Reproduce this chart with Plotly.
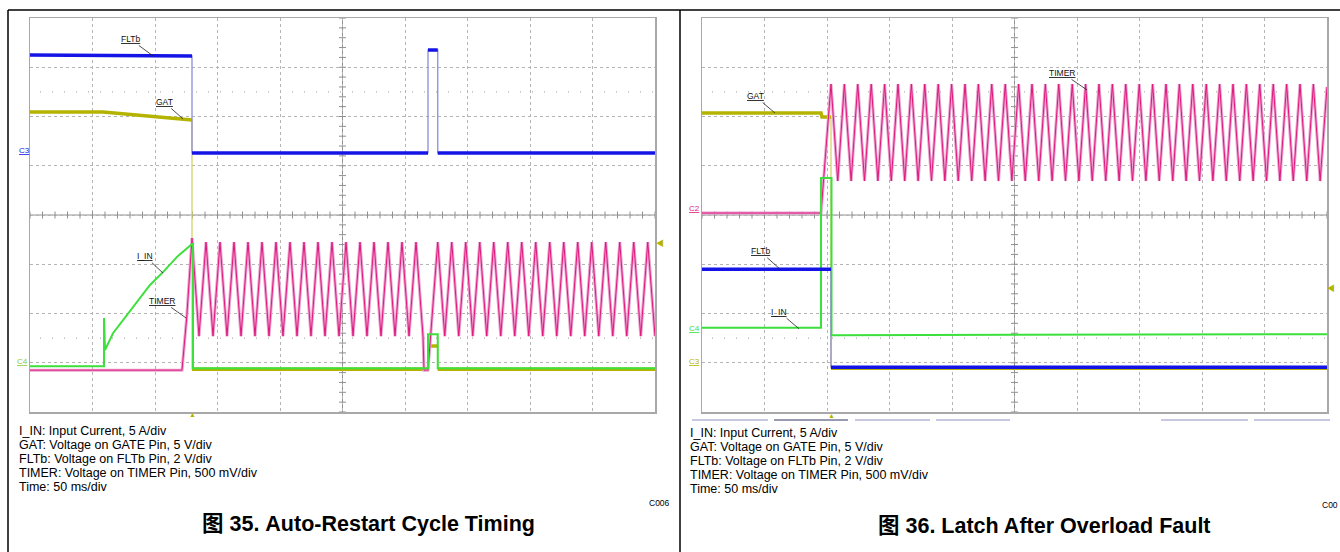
import plotly.graph_objects as go

W, H = 1340, 552

# ---------------- Figure 35 (left) : time in ms (50 ms/div), level in screen divisions
L_FLTB_T = [0, 129.6, 129.6, 318.4, 318.4, 326.2, 326.2, 500]
L_FLTB_V = [3.25, 3.23, 1.26, 1.26, 3.35, 3.35, 1.26, 1.26]

L_GAT_T = [0, 58.4, 129.6, 129.6, 319.2, 319.2, 326.2, 326.2, 500]
L_GAT_V = [2.09, 2.09, 1.93, -3.13, -3.13, -2.66, -2.66, -3.13, -3.13]

L_IIN_T = [0, 59.2, 59.2, 60.0, 66.4, 82.4, 96.0, 106.4, 117.6, 129.6, 130.4, 130.4,
           318.4, 318.4, 326.2, 326.2, 500]
L_IIN_V = [-3.07, -3.07, -2.09, -2.74, -2.40, -1.87, -1.42, -1.16, -0.85, -0.59, -0.59, -3.11,
           -3.11, -2.42, -2.42, -3.11, -3.11]

L_TIMER_T = [0, 121.6, 125.4, 129.6,
             135.2, 140.8, 146.4, 152.0, 157.6, 163.2, 168.8, 174.4, 180.0, 185.6, 191.2, 196.8,
             202.4, 208.0, 213.6, 219.2, 224.8, 230.4, 236.0, 241.6, 247.2, 252.8, 258.4, 264.0,
             269.6, 275.2, 280.8, 286.4, 292.0, 297.6, 303.2, 308.8,
             314.4, 315.2, 318.4, 326.2,
             331.8, 337.4, 343.0, 348.6, 354.2, 359.8, 365.4, 371.0, 376.6, 382.2, 387.8, 393.4,
             399.0, 404.6, 410.2, 415.8, 421.4, 427.0, 432.6, 438.2, 443.8, 449.4, 455.0, 460.6,
             466.2, 471.8, 477.4, 483.0, 488.6, 494.2, 500.0]
L_TIMER_V = [-3.15, -3.15, -2.07, -0.47,
             -2.46, -0.55, -2.46, -0.55, -2.46, -0.55, -2.46, -0.55, -2.46, -0.55, -2.46, -0.55,
             -2.46, -0.55, -2.46, -0.55, -2.46, -0.55, -2.46, -0.55, -2.46, -0.55, -2.46, -0.55,
             -2.46, -0.55, -2.46, -0.55, -2.46, -0.55, -2.46, -0.55,
             -2.46, -3.15, -3.15, -0.55,
             -2.46, -0.55, -2.46, -0.55, -2.46, -0.55, -2.46, -0.55, -2.46, -0.55, -2.46, -0.55,
             -2.46, -0.55, -2.46, -0.55, -2.46, -0.55, -2.46, -0.55, -2.46, -0.55, -2.46, -0.55,
             -2.46, -0.55, -2.46, -0.55, -2.46, -0.55, -2.46]

# ---------------- Figure 36 (right)
R_GAT_T = [0, 95.2, 96.0, 103.2, 103.2, 500]
R_GAT_V = [2.07, 2.07, 1.99, 1.99, -3.11, -3.11]

R_FLTB_T = [0, 103.2, 103.2, 500]
R_FLTB_V = [-1.10, -1.10, -3.09, -3.09]

R_IIN_T = [0, 95.2, 95.2, 103.6, 103.6, 500]
R_IIN_V = [-2.29, -2.29, 0.75, 0.75, -2.44, -2.42]

R_TIMER_T = [0, 95.2, 103.2,
             108.6, 113.9, 119.3, 124.6, 130.0, 135.4, 140.7, 146.1, 151.4, 156.8, 162.2, 167.5,
             172.9, 178.2, 183.6, 189.0, 194.3, 199.7, 205.0, 210.4, 215.8, 221.1, 226.5, 231.8,
             237.2, 242.6, 247.9, 253.3, 258.6, 264.0, 269.4, 274.7, 280.1, 285.4, 290.8, 296.2,
             301.5, 306.9, 312.2, 317.6, 323.0, 328.3, 333.7, 339.0, 344.4, 349.8, 355.1, 360.5,
             365.8, 371.2, 376.6, 381.9, 387.3, 392.6, 398.0, 403.4, 408.7, 414.1, 419.4, 424.8,
             430.2, 435.5, 440.9, 446.2, 451.6, 457.0, 462.3, 467.7, 473.0, 478.4, 483.8, 489.1,
             494.5, 500.0]
R_TIMER_V = [0.04, 0.04, 2.66,
             0.69, 2.66, 0.69, 2.66, 0.69, 2.66, 0.69, 2.66, 0.69, 2.66, 0.69, 2.66,
             0.69, 2.66, 0.69, 2.66, 0.69, 2.66, 0.69, 2.66, 0.69, 2.66, 0.69, 2.66,
             0.69, 2.66, 0.69, 2.66, 0.69, 2.66, 0.69, 2.66, 0.69, 2.66, 0.69, 2.66,
             0.69, 2.66, 0.69, 2.66, 0.69, 2.66, 0.69, 2.66, 0.69, 2.66, 0.69, 2.66,
             0.69, 2.66, 0.69, 2.66, 0.69, 2.66, 0.69, 2.66, 0.69, 2.66, 0.69, 2.66,
             0.69, 2.66, 0.69, 2.66, 0.69, 2.66, 0.69, 2.66, 0.69, 2.66, 0.69, 2.66,
             0.69, 2.60]

# ---------------- texts
NOTES = ["I_IN: Input Current, 5 A/div",
         "GAT: Voltage on GATE Pin, 5 V/div",
         "FLTb: Voltage on FLTb Pin, 2 V/div",
         "TIMER: Voltage on TIMER Pin, 500 mV/div",
         "Time: 50 ms/div"]
TITLE_L = "图 35. Auto-Restart Cycle Timing"
TITLE_R = "图 36. Latch After Overload Fault"
CODE_L = "C006"
CODE_R = "C00"

FONT = "Liberation Sans, Arial, Noto Sans CJK SC, sans-serif"
BLUE, BLUE_T = "#1414e6", "#8c8cdc"
OLIVE, OLIVE_T = "#b4b400", "#d4d46a"
GREEN = "#3ce03c"
MAG, MAG_T = "#e0187c", "#eaa2d0"
GRID = "#b4b4b4"


def px(x):
    return x / W


def py(y):
    return 1 - y / H


def thick(t, v):
    xs, ys = [], []
    for i in range(len(t)):
        if i > 0 and t[i] == t[i - 1]:
            xs.append(None)
            ys.append(None)
        xs.append(t[i])
        ys.append(v[i])
    return xs, ys


fig = go.Figure()


def add_panel(xa, ya, gat, timer, iin, fltb):
    kw = dict(xaxis=xa, yaxis=ya, mode="lines", hoverinfo="skip", showlegend=False)
    # decorations: centre-line minor ticks
    tt = [i * 10 for i in range(51)]
    fig.add_trace(go.Scatter(x=tt, y=[0] * len(tt), mode="markers", xaxis=xa, yaxis=ya,
                             marker=dict(symbol="line-ns", size=5, line=dict(width=1, color="#909090")),
                             hoverinfo="skip", showlegend=False))
    vv = [-4 + i * 0.2 for i in range(41)]
    fig.add_trace(go.Scatter(x=[250] * len(vv), y=vv, mode="markers", xaxis=xa, yaxis=ya,
                             marker=dict(symbol="line-ew", size=5, line=dict(width=1, color="#909090")),
                             hoverinfo="skip", showlegend=False))
    # GAT
    fig.add_trace(go.Scatter(x=gat[0], y=gat[1], line=dict(color=OLIVE_T, width=1.3), **kw))
    gx, gy = thick(*gat)
    fig.add_trace(go.Scatter(x=gx, y=gy, line=dict(color=OLIVE, width=3.5), **kw))
    # TIMER
    fig.add_trace(go.Scatter(x=timer[0], y=timer[1], line=dict(color=MAG_T, width=3), **kw))
    fig.add_trace(go.Scatter(x=timer[0], y=timer[1], line=dict(color=MAG, width=1), **kw))
    # I_IN
    fig.add_trace(go.Scatter(x=iin[0], y=iin[1], line=dict(color=GREEN, width=2), **kw))
    # FLTb
    fig.add_trace(go.Scatter(x=fltb[0], y=fltb[1], line=dict(color=BLUE_T, width=1.3), **kw))
    fx, fy = thick(*fltb)
    fig.add_trace(go.Scatter(x=fx, y=fy, line=dict(color=BLUE, width=3.5), **kw))


add_panel("x", "y", (L_GAT_T, L_GAT_V), (L_TIMER_T, L_TIMER_V), (L_IIN_T, L_IIN_V), (L_FLTB_T, L_FLTB_V))
add_panel("x2", "y2", (R_GAT_T, R_GAT_V), (R_TIMER_T, R_TIMER_V), (R_IIN_T, R_IIN_V), (R_FLTB_T, R_FLTB_V))


def xax(dom, anchor):
    return dict(domain=dom, range=[0, 500], dtick=50, tick0=0, showgrid=True, gridcolor=GRID,
                griddash="dot", gridwidth=1, showline=True, mirror=True, linecolor="#a8a8a8",
                linewidth=1.5, showticklabels=False, ticks="", zeroline=False, fixedrange=True,
                anchor=anchor)


def yax(dom, anchor):
    return dict(domain=dom, range=[-4, 4], dtick=1, tick0=0, showgrid=True, gridcolor=GRID,
                griddash="dot", gridwidth=1, showline=True, mirror=True, linecolor="#a8a8a8",
                linewidth=1.5, showticklabels=False, ticks="", zeroline=False, fixedrange=True,
                anchor=anchor)


ydom = [py(412), py(18)]
shapes = []
for xr, yr in (("x", "y"), ("x2", "y2")):
    shapes.append(dict(type="line", xref=xr, yref=yr, x0=250, x1=250, y0=-4, y1=4, layer="below",
                       line=dict(color="#909090", width=1)))
    shapes.append(dict(type="line", xref=xr, yref=yr, x0=0, x1=500, y0=0, y1=0, layer="below",
                       line=dict(color="#909090", width=1)))
    for lv in (2.5, -2.5):
        shapes.append(dict(type="line", xref=xr, yref=yr, x0=8, x1=500, y0=lv, y1=lv, layer="below",
                           line=dict(color="#999999", width=1, dash="1px,11px")))

# outer frames
frame = dict(color="#000000", width=1.5)
shapes.append(dict(type="line", xref="paper", yref="paper", x0=px(8), x1=1, y0=py(10), y1=py(10), line=frame))
shapes.append(dict(type="line", xref="paper", yref="paper", x0=px(8), x1=px(8), y0=py(10), y1=0, line=frame))
shapes.append(dict(type="line", xref="paper", yref="paper", x0=px(680), x1=px(680), y0=py(10), y1=0, line=frame))

# faint bars under right scope picture
for x0, x1, c in ((692, 768, "#c8c8e2"), (774, 848, "#9a9ab0"), (855, 930, "#c8c8e2"),
                  (936, 1010, "#c8c8e2"), (1161, 1248, "#c8c8e2"), (1254, 1330, "#c8c8e2")):
    shapes.append(dict(type="line", xref="paper", yref="paper", x0=px(x0), x1=px(x1),
                       y0=py(420), y1=py(420), line=dict(color=c, width=2)))

ann = []


def label(xr, yr, t, v, text, ax, ay):
    ann.append(dict(xref=xr, yref=yr, x=t, y=v, text="<u>%s</u>" % text, showarrow=True,
                    arrowhead=0, arrowwidth=0.8, arrowcolor="#222222", ax=ax, ay=ay, standoff=0,
                    font=dict(family=FONT, size=8.5, color="#111111")))


label("x", "y", 98.4, 3.23, "FLTb", -23, -17)
label("x", "y", 122.4, 1.95, "GAT", -19, -17)
label("x", "y", 106.4, -1.18, "I_IN", -18, -17)
label("x", "y", 124.8, -2.09, "TIMER", -24, -17)
label("x2", "y2", 58.4, 2.07, "GAT", -20, -17)
label("x2", "y2", 308.0, 2.54, "TIMER", -25, -17)
label("x2", "y2", 61.6, -1.08, "FLTb", -19, -17)
label("x2", "y2", 77.6, -2.31, "I_IN", -20, -17)


def ptext(x, y, text, size, color="#000000", xanchor="left", bold=False):
    ann.append(dict(xref="paper", yref="paper", x=px(x), y=py(y), text=("<b>%s</b>" % text) if bold else text,
                    showarrow=False, xanchor=xanchor, yanchor="middle",
                    font=dict(family=FONT, size=size, color=color)))


# channel markers
ptext(24, 150, "<u>C3</u>", 8, BLUE, "center")
ptext(22, 361, "<u>C4</u>", 8, "#8ccc30", "center")
ptext(694, 208, "<u>C2</u>", 8, MAG, "center")
ptext(694, 328, "<u>C4</u>", 8, GREEN, "center")
ptext(694, 361, "<u>C3</u>", 8, OLIVE, "center")
ptext(660, 243, "◀", 8, OLIVE, "center")
ptext(1331, 288, "◀", 8, OLIVE, "center")
ptext(192, 414, "▲", 7, OLIVE, "center")
ptext(831, 415, "▲", 7, OLIVE, "center")

for i, line in enumerate(NOTES):
    ptext(16.5, 431 + 14 * i, line, 12.5)
    ptext(687.5, 433 + 14 * i, line, 12.5)
ptext(659, 503, CODE_L, 8.5, "#000000", "center")
ptext(1340, 505, CODE_R, 8.5, "#000000", "right")
ptext(368, 524, TITLE_L, 21.5, "#000000", "center", bold=True)
ptext(1044, 526, TITLE_R, 21.5, "#000000", "center", bold=True)

fig.update_layout(
    width=W, height=H, margin=dict(l=0, r=0, t=0, b=0),
    paper_bgcolor="white", plot_bgcolor="white", showlegend=False,
    xaxis=xax([px(30), px(655)], "y"), yaxis=yax(ydom, "x"),
    xaxis2=xax([px(702), px(1327)], "y2"), yaxis2=yax(ydom, "x2"),
    shapes=shapes, annotations=ann, hovermode=False,
)

fig.write_html("out.html", config={"displayModeBar": False, "staticPlot": True},
               post_script="document.body.style.margin='0px';")
